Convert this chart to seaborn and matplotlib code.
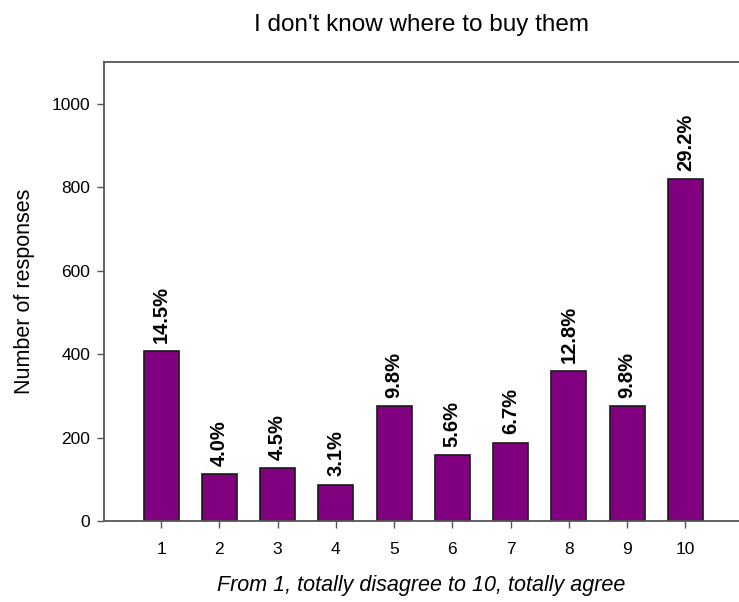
import matplotlib
matplotlib.use("Agg")
import matplotlib.pyplot as plt
import seaborn as sns
import pandas as pd

# data
scores = ["1", "2", "3", "4", "5", "6", "7", "8", "9", "10"]
responses = [407, 112, 126, 87, 275, 157, 188, 359, 275, 820]
pct_labels = ["14.5%", "4.0%", "4.5%", "3.1%", "9.8%", "5.6%", "6.7%", "12.8%", "9.8%", "29.2%"]

df = pd.DataFrame({"score": scores, "responses": responses})

sns.set_style("ticks")
plt.rcParams['font.family'] = ['Liberation Sans', 'DejaVu Sans']
plt.rcParams['text.color'] = 'black'
plt.rcParams['axes.labelcolor'] = 'black'
plt.rcParams['xtick.labelcolor'] = 'black'
plt.rcParams['ytick.labelcolor'] = 'black'

fig = plt.figure(figsize=(7.39, 6.02), dpi=100)
ax = fig.add_axes([0.1407, 0.1346, 0.8593, 0.7624])

sns.barplot(data=df, x="score", y="responses", color="#800080", saturation=1,
            width=0.6, edgecolor="#1a1a1a", linewidth=1.2, ax=ax)

# percentage labels on top of bars
for i, (v, lab) in enumerate(zip(responses, pct_labels)):
    ax.annotate(lab, (i, v), xytext=(0, 6), textcoords="offset points",
                rotation=90, ha="center", va="bottom", fontsize=14.5, fontweight="bold")

ax.set_ylim(0, 1100)
ax.set_xlim(-0.98, 9.92)
ax.set_yticks([0, 200, 400, 600, 800, 1000])

for s in ["left", "bottom", "top"]:
    ax.spines[s].set_color("#555555")
    ax.spines[s].set_linewidth(1.3)
ax.spines["right"].set_visible(False)
ax.tick_params(axis="both", direction="out", length=5, width=1, color="#555555",
               labelsize=12.5)
ax.tick_params(axis="x", pad=10)
ax.tick_params(axis="y", pad=5)

ax.set_ylabel("Number of responses", fontsize=15.5, labelpad=12)
ax.set_xlabel("From 1, totally disagree to 10, totally agree", fontsize=15.5,
              style="italic", labelpad=13)
ax.set_title("I don't know where to buy them", fontsize=17.5, pad=22)

fig.savefig("out.png", dpi=100)
